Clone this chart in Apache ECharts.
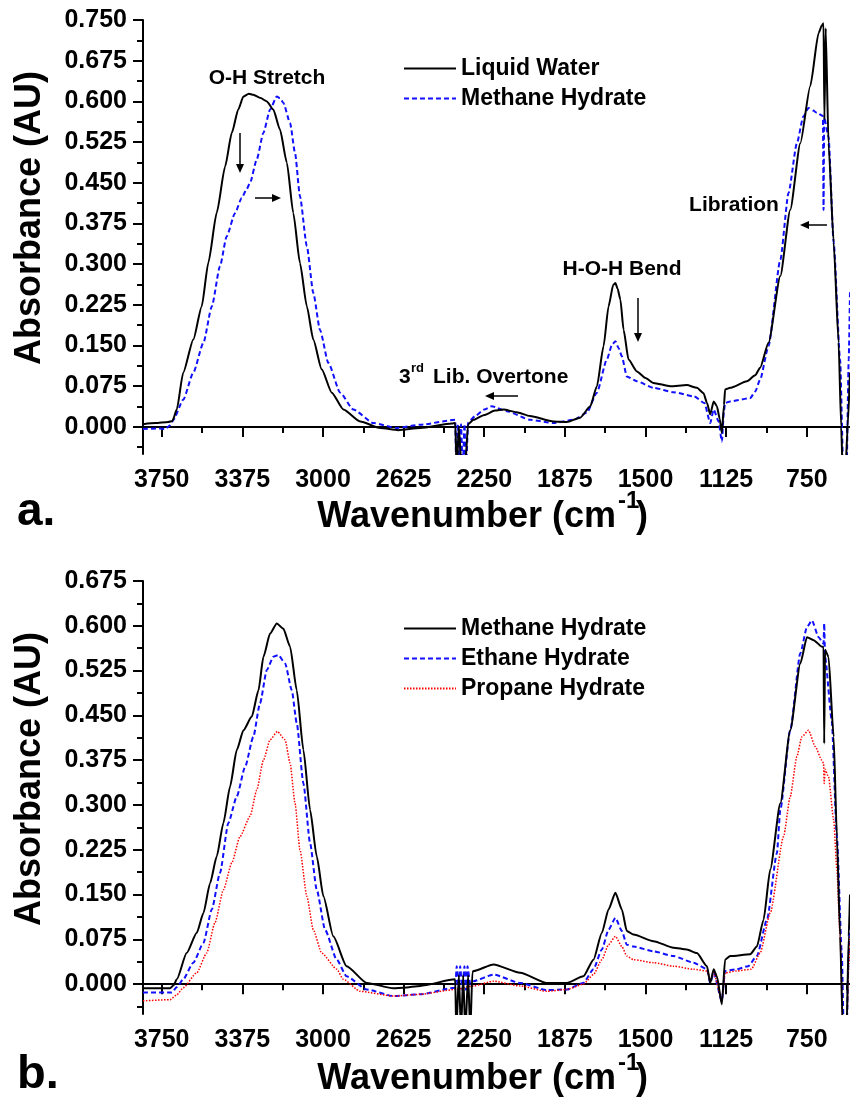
<!DOCTYPE html>
<html>
<head>
<meta charset="utf-8">
<script src="https://cdn.jsdelivr.net/npm/echarts@6.0.0/dist/echarts.min.js"></script>
<style>
  html, body { margin: 0; padding: 0; background: #fff; }
  #container { width: 850px; height: 1097px; }
</style>
</head>
<body>
<div id="container"></div>
<script>
// tick values
var xTickValues = [3750, 3375, 3000, 2625, 2250, 1875, 1500, 1125, 750];
var xMinorTicks = [3562.5, 3187.5, 2812.5, 2437.5, 2062.5, 1687.5, 1312.5, 937.5, 562.5];
var yTicksA = [0, 0.075, 0.15, 0.225, 0.3, 0.375, 0.45, 0.525, 0.6, 0.675, 0.75];
var yMinorA = [-0.0375, 0.0375, 0.1125, 0.1875, 0.2625, 0.3375, 0.4125, 0.4875, 0.5625, 0.6375, 0.7125];
var yTicksB = [0, 0.075, 0.15, 0.225, 0.3, 0.375, 0.45, 0.525, 0.6, 0.675];
var yMinorB = [-0.0375, 0.0375, 0.1125, 0.1875, 0.2625, 0.3375, 0.4125, 0.4875, 0.5625, 0.6375];

// panel a : [wavenumber, absorbance]
var liquidWater = [
  [3837, 0.005], [3780, 0.007], [3720, 0.009], [3700, 0.011], [3680, 0.032], [3650, 0.100],
  [3603, 0.161], [3564, 0.222], [3533, 0.303], [3494, 0.395], [3455, 0.480], [3424, 0.542],
  [3394, 0.585], [3370, 0.609], [3345, 0.614], [3324, 0.612], [3290, 0.606], [3261, 0.600],
  [3231, 0.585], [3200, 0.548], [3168, 0.487], [3138, 0.394], [3107, 0.302], [3075, 0.222],
  [3045, 0.161], [3006, 0.106], [2959, 0.063], [2905, 0.032], [2827, 0.010], [2734, -0.002],
  [2650, -0.006], [2548, -0.002], [2400, 0.006], [2385, 0.007], [2378, -0.08], [2368, 0.0],
  [2355, -0.08], [2340, -0.08], [2325, 0.005], [2300, 0.013], [2250, 0.022], [2200, 0.030],
  [2160, 0.032], [2100, 0.027], [2037, 0.020], [1928, 0.010], [1866, 0.009], [1804, 0.017],
  [1757, 0.038], [1726, 0.075], [1695, 0.149], [1672, 0.222], [1650, 0.262], [1640, 0.265],
  [1630, 0.255], [1617, 0.235], [1602, 0.179], [1579, 0.124], [1540, 0.102], [1500, 0.090],
  [1463, 0.081], [1385, 0.075], [1308, 0.077], [1261, 0.072], [1230, 0.062], [1214, 0.044],
  [1199, 0.023], [1183, 0.047], [1168, 0.038], [1155, 0.015], [1145, -0.011], [1135, 0.040],
  [1130, 0.069], [1106, 0.072], [1028, 0.084], [990, 0.095], [967, 0.109], [928, 0.155],
  [873, 0.278], [827, 0.400], [780, 0.523], [734, 0.628], [695, 0.726], [680, 0.740],
  [672, 0.744], [668, 0.566], [662, 0.735], [649, 0.523], [625, 0.340], [602, 0.155],
  [590, 0.0], [583, -0.08], [570, -0.08], [560, 0.0], [549, 0.10]
];
var methaneA = [
  [3837, -0.004], [3760, -0.003], [3735, -0.004], [3710, 0.003], [3696, 0.013], [3650, 0.050],
  [3603, 0.100], [3556, 0.155], [3517, 0.222], [3479, 0.296], [3448, 0.351], [3409, 0.394],
  [3378, 0.422], [3355, 0.438], [3339, 0.450], [3308, 0.493], [3277, 0.542], [3246, 0.585],
  [3215, 0.609], [3200, 0.606], [3184, 0.597], [3153, 0.560], [3130, 0.505], [3107, 0.425],
  [3075, 0.333], [3045, 0.247], [3014, 0.179], [2975, 0.118], [2920, 0.063], [2859, 0.032],
  [2765, 0.007], [2657, -0.002], [2548, 0.004], [2385, 0.013], [2380, -0.08], [2372, 0.005],
  [2365, -0.08], [2358, 0.005], [2350, -0.08], [2342, 0.005], [2335, -0.08], [2325, 0.008],
  [2292, 0.020], [2250, 0.032], [2215, 0.038], [2145, 0.029], [2037, 0.013], [1928, 0.007],
  [1835, 0.013], [1773, 0.026], [1726, 0.063], [1680, 0.124], [1655, 0.152], [1640, 0.158],
  [1625, 0.145], [1610, 0.130], [1587, 0.093], [1540, 0.084], [1463, 0.072], [1370, 0.064],
  [1273, 0.056], [1226, 0.044], [1199, 0.007], [1183, 0.032], [1160, 0.010], [1145, -0.027],
  [1135, 0.030], [1130, 0.044], [1106, 0.047], [1013, 0.053], [990, 0.065], [967, 0.087],
  [928, 0.149], [873, 0.308], [835, 0.431], [796, 0.523], [766, 0.572], [742, 0.588],
  [720, 0.583], [703, 0.579], [675, 0.573], [672, 0.40], [669, 0.570], [649, 0.535],
  [625, 0.340], [595, 0.124], [580, -0.08], [565, -0.08], [555, 0.124], [549, 0.25]
];

// panel b
var methaneB = [
  [3837, -0.007], [3711, -0.007], [3695, -0.002], [3680, 0.008], [3634, 0.052], [3587, 0.086],
  [3556, 0.119], [3525, 0.169], [3494, 0.214], [3463, 0.270], [3432, 0.331], [3401, 0.392],
  [3370, 0.425], [3331, 0.448], [3300, 0.492], [3277, 0.548], [3246, 0.587], [3215, 0.604],
  [3184, 0.595], [3153, 0.565], [3122, 0.492], [3091, 0.392], [3060, 0.292], [3029, 0.214],
  [2998, 0.147], [2952, 0.080], [2890, 0.030], [2796, 0.002], [2672, -0.007], [2625, -0.006],
  [2548, -0.003], [2385, 0.008], [2380, -0.08], [2368, 0.015], [2358, -0.08], [2348, 0.015],
  [2338, -0.08], [2325, 0.015], [2315, -0.08], [2305, 0.020], [2300, 0.022], [2207, 0.033],
  [2083, 0.019], [1959, 0.002], [1866, 0.002], [1789, 0.013], [1742, 0.041], [1703, 0.086],
  [1672, 0.125], [1640, 0.153], [1610, 0.125], [1587, 0.089], [1556, 0.083], [1463, 0.072],
  [1370, 0.061], [1308, 0.058], [1261, 0.052], [1214, 0.030], [1199, 0.002], [1183, 0.025],
  [1168, 0.013], [1145, -0.034], [1130, 0.041], [1106, 0.047], [1013, 0.050], [982, 0.063],
  [951, 0.108], [920, 0.192], [873, 0.303], [827, 0.425], [780, 0.537], [749, 0.581],
  [718, 0.576], [680, 0.565], [672, 0.565], [669, 0.403], [665, 0.560], [649, 0.548],
  [625, 0.414], [610, 0.247], [595, 0.080], [582, -0.08], [565, -0.08], [555, 0.080], [549, 0.15]
];
var ethaneB = [
  [3837, -0.014], [3703, -0.014], [3680, -0.005], [3650, 0.008], [3603, 0.036], [3556, 0.069],
  [3517, 0.125], [3479, 0.186], [3440, 0.270], [3401, 0.314], [3362, 0.364], [3324, 0.414],
  [3293, 0.470], [3261, 0.526], [3231, 0.548], [3208, 0.551], [3176, 0.537], [3145, 0.492],
  [3122, 0.437], [3091, 0.336], [3060, 0.236], [3029, 0.158], [2990, 0.091], [2936, 0.041],
  [2890, 0.013], [2796, -0.009], [2672, -0.020], [2548, -0.017], [2385, -0.006], [2378, 0.030],
  [2370, -0.010], [2362, 0.030], [2352, -0.010], [2342, 0.030], [2335, -0.010], [2328, 0.030],
  [2315, 0.000], [2300, 0.005], [2207, 0.016], [2083, 0.002], [1959, -0.010], [1866, -0.009],
  [1789, 0.002], [1742, 0.025], [1703, 0.058], [1672, 0.091], [1640, 0.111], [1610, 0.089],
  [1587, 0.066], [1556, 0.063], [1463, 0.055], [1370, 0.047], [1277, 0.036], [1214, 0.025],
  [1199, 0.002], [1183, 0.019], [1145, -0.028], [1130, 0.022], [1076, 0.025], [1023, 0.030],
  [982, 0.047], [935, 0.108], [889, 0.219], [873, 0.292], [827, 0.425], [780, 0.554],
  [749, 0.598], [726, 0.609], [695, 0.581], [672, 0.570], [669, 0.604], [665, 0.548],
  [634, 0.442], [610, 0.247], [587, 0.052], [578, -0.08], [565, -0.08], [555, 0.05], [549, 0.12]
];
var propaneB = [
  [3837, -0.028], [3711, -0.026], [3680, -0.018], [3650, -0.006], [3587, 0.019], [3541, 0.052],
  [3502, 0.103], [3463, 0.158], [3424, 0.203], [3386, 0.247], [3339, 0.281], [3308, 0.325],
  [3277, 0.375], [3246, 0.409], [3212, 0.423], [3176, 0.409], [3153, 0.370], [3130, 0.303],
  [3107, 0.225], [3075, 0.147], [3045, 0.091], [3006, 0.052], [2936, 0.025], [2905, 0.008],
  [2827, -0.012], [2672, -0.020], [2548, -0.017], [2385, -0.009], [2300, -0.003], [2207, 0.005],
  [2083, -0.003], [1959, -0.012], [1866, -0.009], [1789, 0.000], [1742, 0.016], [1703, 0.041],
  [1672, 0.066], [1640, 0.080], [1610, 0.063], [1587, 0.047], [1556, 0.041], [1463, 0.036],
  [1370, 0.030], [1277, 0.025], [1214, 0.022], [1199, 0.005], [1183, 0.019], [1145, -0.026],
  [1130, 0.019], [1076, 0.022], [1008, 0.025], [967, 0.052], [920, 0.119], [858, 0.247],
  [827, 0.314], [796, 0.381], [773, 0.414], [742, 0.425], [711, 0.398], [680, 0.375],
  [672, 0.370], [669, 0.336], [665, 0.360], [649, 0.347], [625, 0.275], [610, 0.192],
  [595, 0.080], [582, -0.08], [565, -0.08], [555, 0.03], [549, 0.08]
];

var FONT = 'Liberation Sans, Arial, sans-serif';
var xMin = 549, xMax = 3837;

function mainX(grid) {
  return {
    type: 'value', gridIndex: grid, position: 'bottom', inverse: true, min: xMin, max: xMax,
    axisLine: { show: true, lineStyle: { color: '#000', width: 2 } },
    axisTick: { show: true, length: 10, customValues: xTickValues, lineStyle: { color: '#000', width: 2 } },
    axisLabel: {
      customValues: xTickValues, fontSize: 25, fontWeight: 'bold', fontFamily: FONT, color: '#000', margin: 14,
      formatter: function (v) { return String(v); }
    },
    splitLine: { show: false }
  };
}
function minorX(grid) {
  return {
    type: 'value', gridIndex: grid, position: 'bottom', inverse: true, min: xMin, max: xMax,
    axisLine: { show: false },
    axisTick: { show: true, length: 6, customValues: xMinorTicks, lineStyle: { color: '#000', width: 2 } },
    axisLabel: { show: false },
    splitLine: { show: false }
  };
}
function mainY(grid, max, ticks) {
  return {
    type: 'value', gridIndex: grid, position: 'left', min: -0.05, max: max,
    axisLine: { show: true, lineStyle: { color: '#000', width: 2 } },
    axisTick: { show: true, length: 10, customValues: ticks, lineStyle: { color: '#000', width: 2 } },
    axisLabel: {
      customValues: ticks, fontSize: 25, fontWeight: 'bold', fontFamily: FONT, color: '#000', margin: 16,
      formatter: function (v) { return v.toFixed(3); }
    },
    splitLine: { show: false }
  };
}
function minorY(grid, max, ticks) {
  return {
    type: 'value', gridIndex: grid, position: 'left', min: -0.05, max: max,
    axisLine: { show: false },
    axisTick: { show: true, length: 6, customValues: ticks, lineStyle: { color: '#000', width: 2 } },
    axisLabel: { show: false },
    splitLine: { show: false }
  };
}

function txt(x, y, text, size, align) {
  return {
    type: 'text', x: x, y: y,
    style: {
      text: text, fontSize: size, fontWeight: 'bold', fontFamily: FONT, fill: '#000',
      align: align || 'center', verticalAlign: 'middle',
      textAlign: align || 'center', textVerticalAlign: 'middle'
    }
  };
}
function arrow(x1, y1, x2, y2) {
  var dx = x2 - x1, dy = y2 - y1;
  var len = Math.sqrt(dx * dx + dy * dy);
  var ux = dx / len, uy = dy / len;
  var hl = 9, hw = 4;
  var bx = x2 - ux * hl, by = y2 - uy * hl;
  return [
    { type: 'line', shape: { x1: x1, y1: y1, x2: bx, y2: by }, style: { stroke: '#000', lineWidth: 1.5 } },
    { type: 'polygon', shape: { points: [[x2, y2], [bx - uy * hw, by + ux * hw], [bx + uy * hw, by - ux * hw]] }, style: { fill: '#000' } }
  ];
}

var graphics = [
  // axis titles
  { type: 'text', x: 30, y: 218, rotation: Math.PI / 2,
    style: { text: 'Absorbance (AU)', fontSize: 36, fontWeight: 'bold', fontFamily: FONT, fill: '#000',
      align: 'center', verticalAlign: 'middle', textAlign: 'center', textVerticalAlign: 'middle' } },
  { type: 'text', x: 30, y: 779, rotation: Math.PI / 2,
    style: { text: 'Absorbance (AU)', fontSize: 36, fontWeight: 'bold', fontFamily: FONT, fill: '#000',
      align: 'center', verticalAlign: 'middle', textAlign: 'center', textVerticalAlign: 'middle' } },
  txt(616, 517, 'Wavenumber (cm', 36, 'right'),
  txt(618, 501, '-1', 24, 'left'),
  txt(636, 517, ')', 36, 'left'),
  txt(616, 1079, 'Wavenumber (cm', 36, 'right'),
  txt(618, 1063, '-1', 24, 'left'),
  txt(636, 1079, ')', 36, 'left'),
  txt(17, 512, 'a.', 46, 'left'),
  txt(17, 1075, 'b.', 47, 'left'),
  // annotations
  txt(267, 78, 'O-H Stretch', 21),
  txt(734, 205, 'Libration', 21),
  txt(622, 269, 'H-O-H Bend', 21),
  txt(399, 377, '3', 21, 'left'),
  txt(411, 368, 'rd', 13, 'left'),
  txt(433, 377, 'Lib. Overtone', 21, 'left')
]
  .concat(arrow(240, 133, 240, 173))
  .concat(arrow(255, 198, 281, 198))
  .concat(arrow(827, 225, 800, 225))
  .concat(arrow(638, 298, 638, 342))
  .concat(arrow(518, 396, 485, 396));

// hide the legend marker dot, keep only the line sample
var noDot = { color: 'rgba(0,0,0,0)', borderWidth: 0, opacity: 0 };

var dom = document.getElementById('container');
var myChart = echarts.init(dom, null, { renderer: 'canvas' });
var option = {
  animation: false,
  backgroundColor: '#fff',
  grid: [
    { left: 143, top: 20, right: 0, height: 434 },
    { left: 143, top: 581, right: 0, height: 433 }
  ],
  legend: [
    {
      orient: 'vertical', left: 403, top: 57, padding: 0, itemWidth: 52, itemHeight: 12, itemGap: 7,
      selectedMode: false, itemStyle: noDot,
      textStyle: { fontSize: 23, fontWeight: 'bold', fontFamily: FONT, color: '#000' },
      data: ['Liquid Water', 'Methane Hydrate']
    },
    {
      orient: 'vertical', left: 403, top: 617, padding: 0, itemWidth: 52, itemHeight: 12, itemGap: 7,
      selectedMode: false, itemStyle: noDot,
      textStyle: { fontSize: 23, fontWeight: 'bold', fontFamily: FONT, color: '#000' },
      data: [
        { name: 'Methane Hydrate', lineStyle: { color: '#000', type: 'solid', width: 2 } },
        'Ethane Hydrate',
        'Propane Hydrate'
      ]
    }
  ],
  xAxis: [mainX(0), minorX(0), mainX(1), minorX(1)],
  yAxis: [mainY(0, 0.75, yTicksA), minorY(0, 0.75, yMinorA), mainY(1, 0.675, yTicksB), minorY(1, 0.675, yMinorB)],
  series: [
    {
      name: 'Liquid Water', type: 'line', xAxisIndex: 0, yAxisIndex: 0, symbol: 'none', data: liquidWater,
      smooth: 0.2, smoothMonotone: 'x',
      lineStyle: { color: '#000', width: 2 }, itemStyle: { color: '#000' }, z: 3
    },
    {
      name: 'Methane Hydrate', type: 'line', xAxisIndex: 0, yAxisIndex: 0, symbol: 'none', data: methaneA,
      smooth: 0.2, smoothMonotone: 'x',
      lineStyle: { color: '#1010ff', width: 2, type: [5, 3] }, itemStyle: { color: '#1010ff' }, z: 2
    },
    {
      name: 'Methane Hydrate', type: 'line', xAxisIndex: 2, yAxisIndex: 2, symbol: 'none', data: methaneB,
      smooth: 0.2, smoothMonotone: 'x',
      lineStyle: { color: '#000', width: 2 }, itemStyle: { color: '#000' }, z: 3
    },
    {
      name: 'Ethane Hydrate', type: 'line', xAxisIndex: 2, yAxisIndex: 2, symbol: 'none', data: ethaneB,
      smooth: 0.2, smoothMonotone: 'x',
      lineStyle: { color: '#1010ff', width: 2, type: [5, 3] }, itemStyle: { color: '#1010ff' }, z: 2
    },
    {
      name: 'Propane Hydrate', type: 'line', xAxisIndex: 2, yAxisIndex: 2, symbol: 'none', data: propaneB,
      smooth: 0.2, smoothMonotone: 'x',
      lineStyle: { color: '#ff0000', width: 1.5, type: [1.5, 1.5] }, itemStyle: { color: '#ff0000' }, z: 2
    }
  ],
  graphic: graphics
};
if (option && typeof option === 'object') {
  myChart.setOption(option, true);
}
</script>
</body>
</html>
